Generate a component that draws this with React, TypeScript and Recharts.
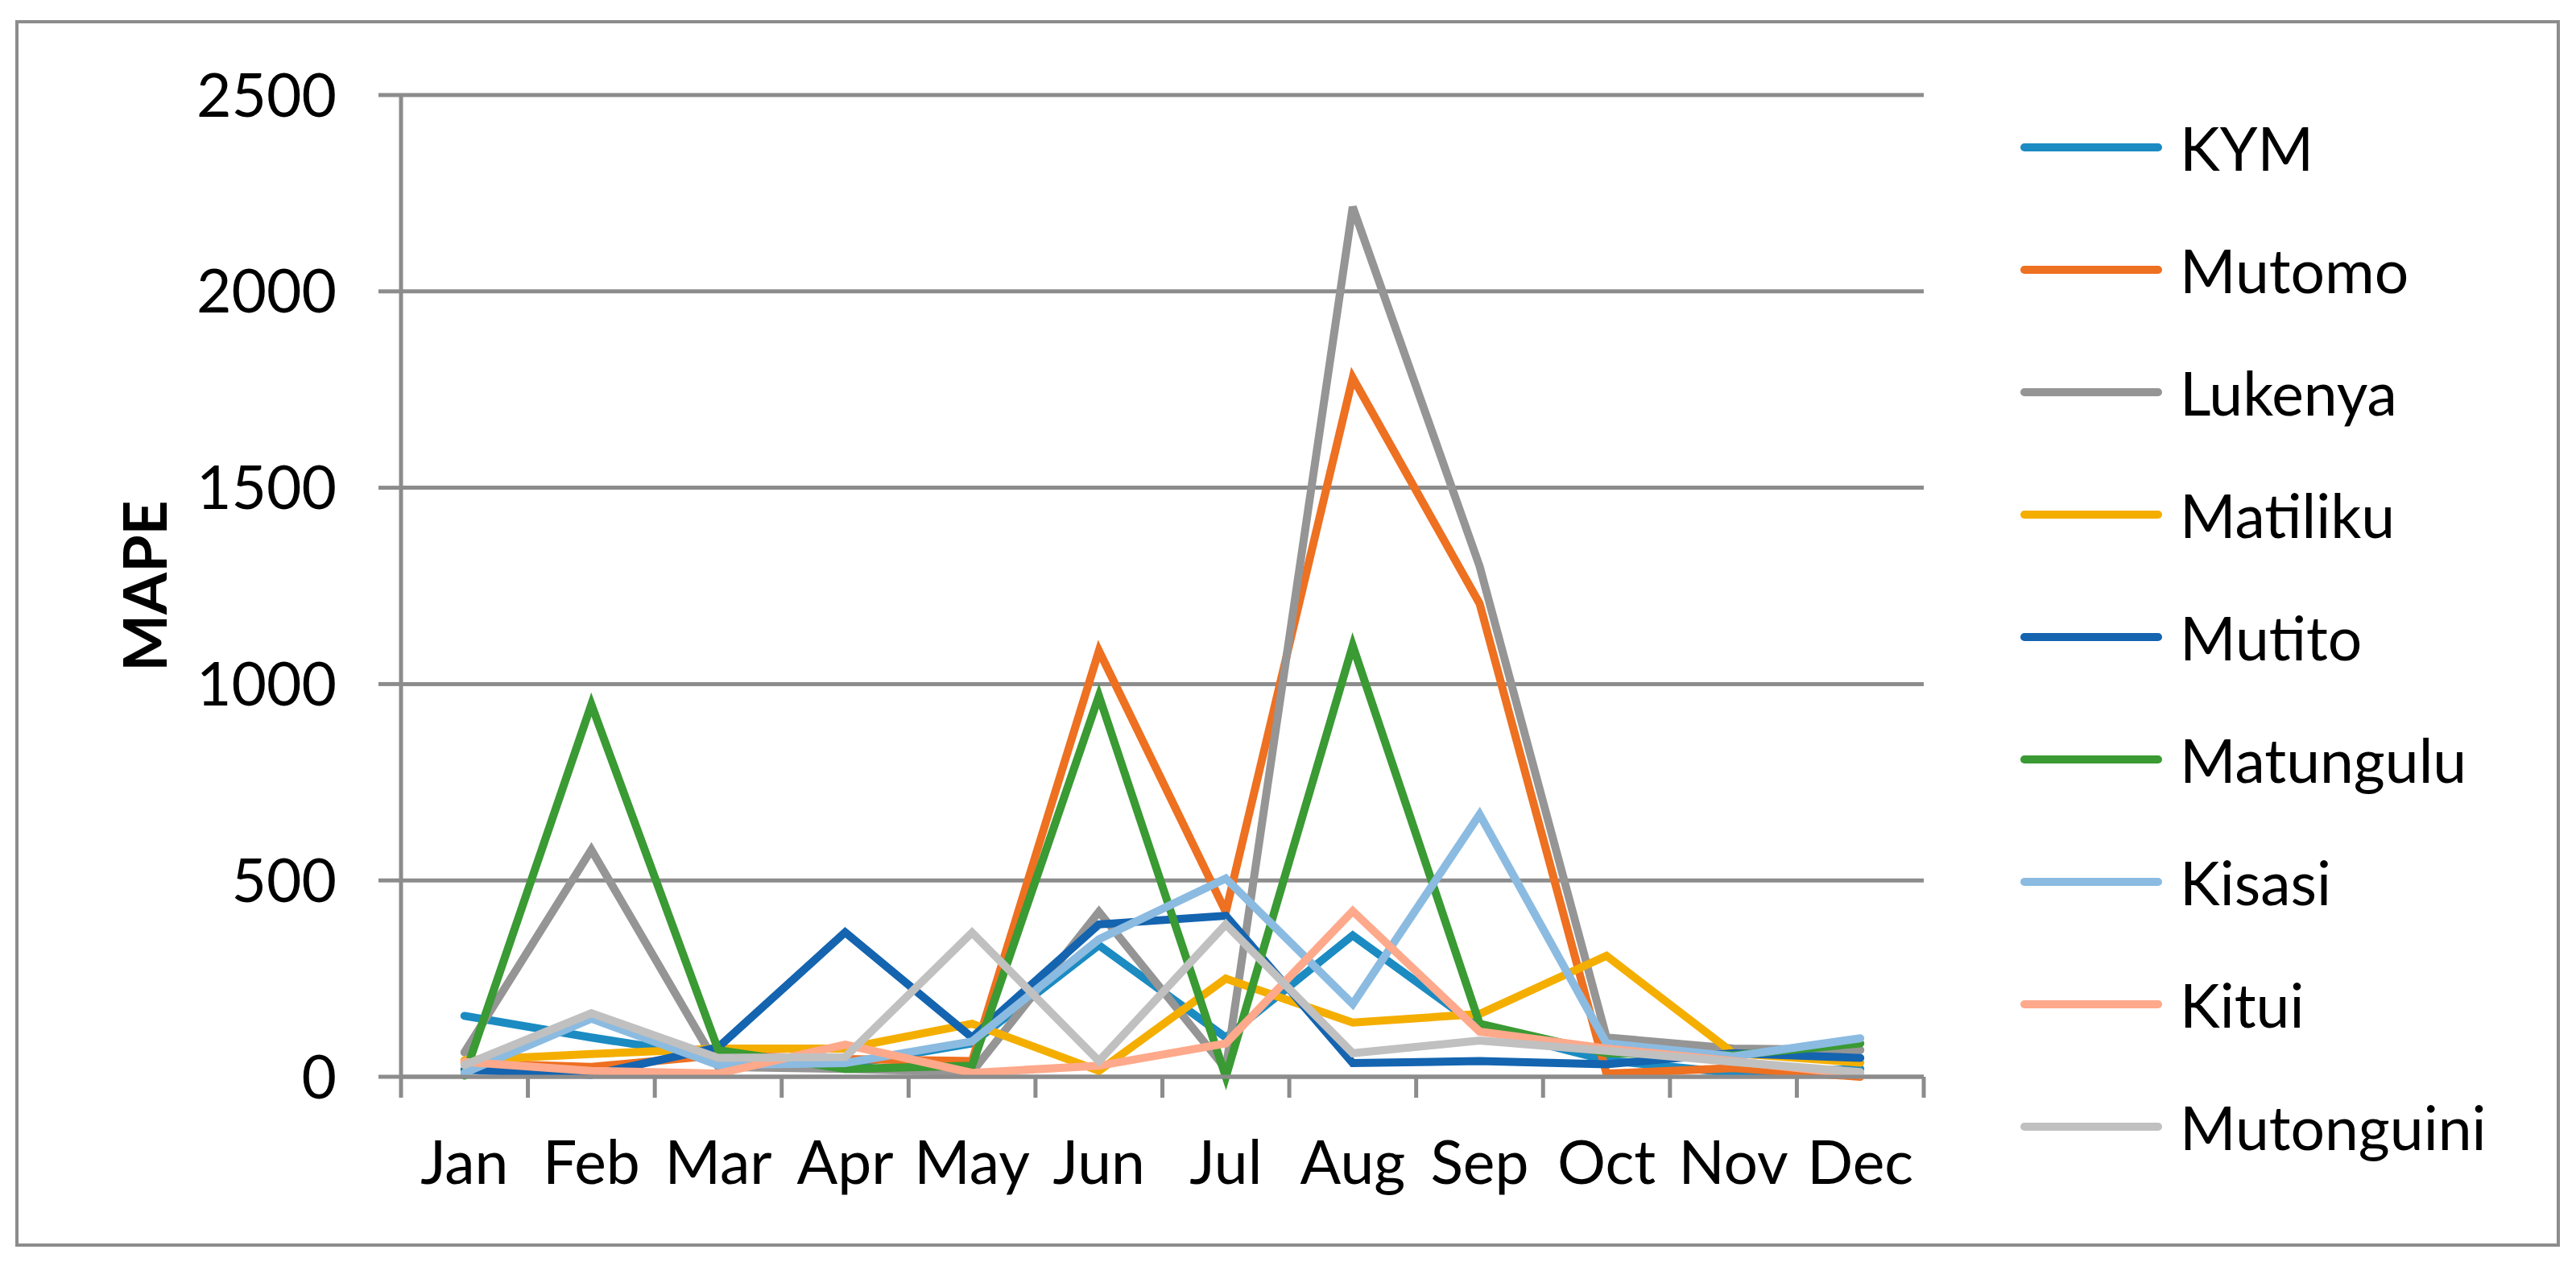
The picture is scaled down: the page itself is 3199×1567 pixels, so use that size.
import React from 'react';
import { LineChart, Line, XAxis, YAxis, CartesianGrid, Legend, Label } from 'recharts';

const months = ['Jan', 'Feb', 'Mar', 'Apr', 'May', 'Jun', 'Jul', 'Aug', 'Sep', 'Oct', 'Nov', 'Dec'];

const kym = [155, 100, 50, 30, 85, 335, 100, 360, 125, 42, 10, 20];
const mutomo = [35, 25, 55, 45, 40, 1085, 420, 1780, 1205, 8, 22, 0];
const lukenya = [62, 578, 25, 20, 12, 420, 20, 2215, 1300, 100, 72, 68];
const matiliku = [42, 58, 72, 72, 135, 15, 250, 138, 160, 308, 60, 36];
const mutito = [18, 5, 75, 368, 100, 388, 410, 35, 40, 32, 60, 48];
const matungulu = [3, 948, 68, 20, 28, 970, 0, 1098, 135, 60, 55, 85];
const kisasi = [10, 148, 30, 35, 90, 350, 505, 185, 668, 85, 52, 98];
const kitui = [38, 15, 8, 82, 10, 28, 85, 422, 115, 72, 40, 5];
const mutonguini = [30, 162, 48, 50, 367, 40, 388, 60, 92, 66, 38, 12];

const yTicks = [0, 500, 1000, 1500, 2000, 2500];

const seriesNames = ['KYM', 'Mutomo', 'Lukenya', 'Matiliku', 'Mutito', 'Matungulu', 'Kisasi', 'Kitui', 'Mutonguini'];
const seriesValues = [kym, mutomo, lukenya, matiliku, mutito, matungulu, kisasi, kitui, mutonguini];
const seriesColors = ['#1B8BC2', '#EE7021', '#959595', '#F4AE00', '#1464B0', '#3A9A33', '#8BBBE1', '#FEA98B', '#C0C0C0'];

const data = months.map((m, i) => {
  const row: any = { month: m };
  seriesNames.forEach((name, s) => {
    row[name] = seriesValues[s][i];
  });
  return row;
});

// layout (page pixels)
const W = 3199;
const H = 1567;
const PLOT_LEFT = 498;
const PLOT_RIGHT = 2389;
const PLOT_TOP = 118;
const PLOT_BOTTOM = 1337;
const X_AXIS_H = 150;
const STEP = (PLOT_RIGHT - PLOT_LEFT) / 12;
const GRID = '#8c8c8c';
const FONT = 'Lato, "Open Sans", sans-serif';

const XTick = (props: any) => {
  const { x, y, payload, index } = props;
  return (
    <g>
      <line x1={x - STEP / 2} y1={y} x2={x - STEP / 2} y2={y + 26} stroke={GRID} strokeWidth={5} />
      {index === months.length - 1 && (
        <line x1={x + STEP / 2} y1={y} x2={x + STEP / 2} y2={y + 26} stroke={GRID} strokeWidth={5} />
      )}
      <text x={x} y={y + 80} dy="0.71em" textAnchor="middle" fontSize={75} fontFamily={FONT} fill="#000">
        {payload.value}
      </text>
    </g>
  );
};

const renderLegend = () => (
  <div style={{ fontFamily: FONT }}>
    {seriesNames.map((name, i) => (
      <div key={name} style={{ height: 152, display: 'flex', alignItems: 'center' }}>
        <svg width={176} height={20} style={{ display: 'block' }}>
          <line x1={5} y1={10} x2={171} y2={10} stroke={seriesColors[i]} strokeWidth={10} strokeLinecap="round" />
        </svg>
        <span style={{ marginLeft: 22, fontSize: 75, lineHeight: 1, color: '#000' }}>{name}</span>
      </div>
    ))}
  </div>
);

export default function App() {
  return (
    <div style={{ position: 'absolute', left: 0, top: 0, width: W, height: H, background: '#fff' }}>
      <div
        style={{
          position: 'absolute',
          left: 19,
          top: 25,
          width: 3160,
          height: 1523,
          boxSizing: 'border-box',
          border: `4px solid ${GRID}`,
        }}
      />
      <div style={{ position: 'absolute', left: 0, top: 0 }}>
        <LineChart
          width={W}
          height={H}
          data={data}
          margin={{ top: PLOT_TOP, right: W - PLOT_RIGHT, bottom: H - PLOT_BOTTOM - X_AXIS_H, left: 0 }}
        >
          <CartesianGrid vertical={false} stroke={GRID} strokeWidth={5} />
          <XAxis
            dataKey="month"
            height={X_AXIS_H}
            interval={0}
            padding={{ left: STEP / 2, right: STEP / 2 }}
            axisLine={{ stroke: GRID, strokeWidth: 5 }}
            tickLine={false}
            tickSize={0}
            tickMargin={0}
            tick={<XTick />}
          />
          <YAxis
            width={PLOT_LEFT}
            domain={[0, 2500]}
            ticks={yTicks}
            interval={0}
            axisLine={{ stroke: GRID, strokeWidth: 5 }}
            tickLine={{ stroke: GRID, strokeWidth: 5 }}
            tickSize={28}
            tickMargin={52}
            tick={{ fontSize: 75, fontFamily: FONT, fill: '#000' }}
          >
            <Label
              content={() => (
                <text
                  x={180}
                  y={(PLOT_TOP + PLOT_BOTTOM) / 2}
                  dy="0.36em"
                  transform={`rotate(-90, 180, ${(PLOT_TOP + PLOT_BOTTOM) / 2})`}
                  textAnchor="middle"
                  fontSize={75}
                  fontWeight="bold"
                  fontFamily={FONT}
                  fill="#000"
                >
                  MAPE
                </text>
              )}
            />
          </YAxis>
          <Legend
            layout="vertical"
            align="center"
            verticalAlign="middle"
            wrapperStyle={{ left: 2509, top: 107, width: 680 }}
            content={renderLegend}
          />
          {seriesNames.map((name, i) => (
            <Line
              key={name}
              type="linear"
              dataKey={name}
              stroke={seriesColors[i]}
              strokeWidth={10}
              strokeLinecap="round"
              dot={false}
              activeDot={false}
              isAnimationActive={false}
            />
          ))}
        </LineChart>
      </div>
    </div>
  );
}
